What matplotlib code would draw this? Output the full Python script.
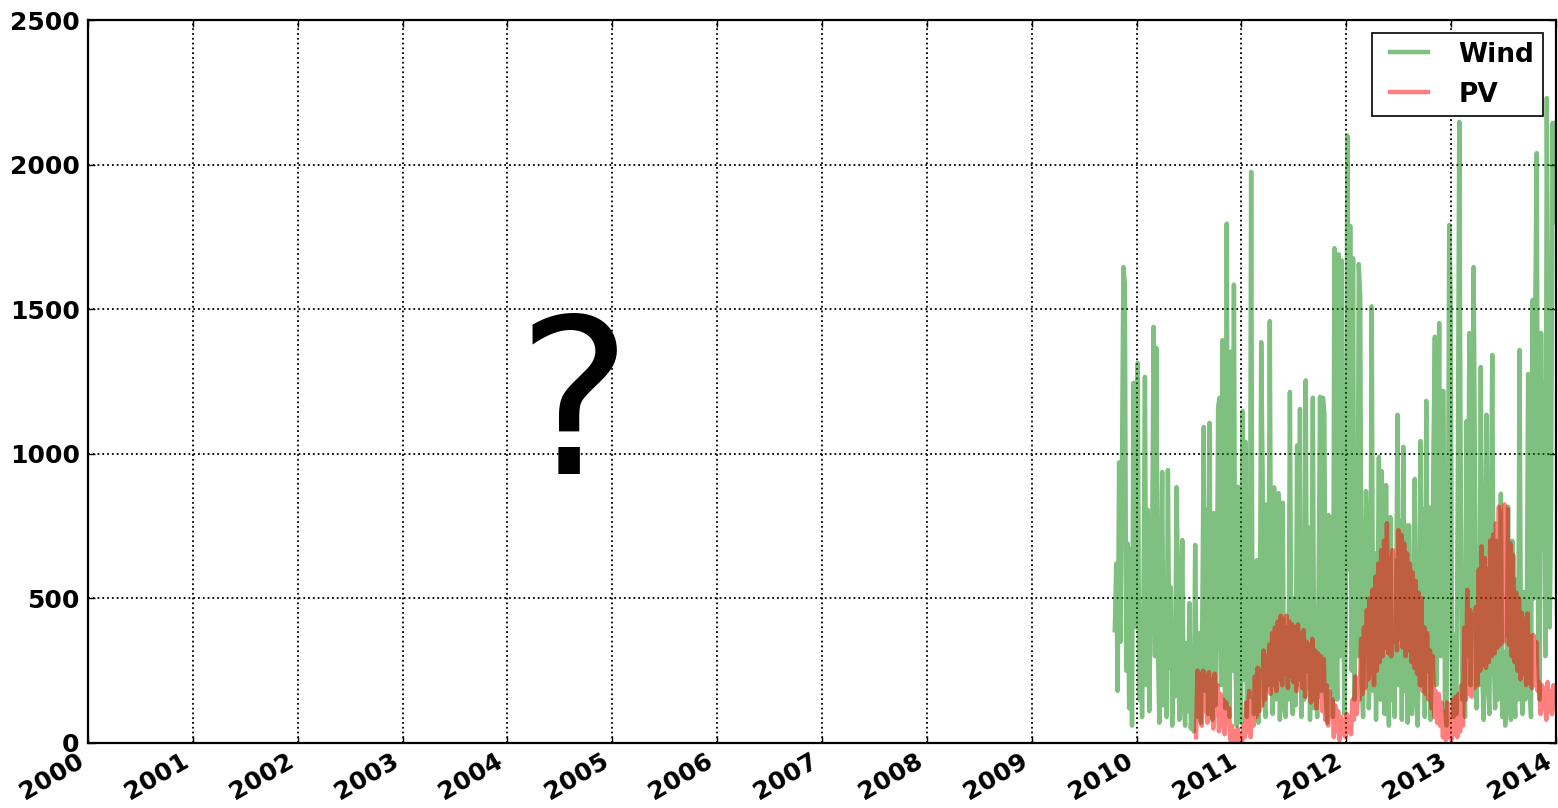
import matplotlib
matplotlib.use("Agg")
import matplotlib.pyplot as plt
import matplotlib.dates as mdates
from matplotlib.lines import Line2D
from matplotlib.legend_handler import HandlerLine2D
import pandas as pd
from datetime import datetime

# ---------------- data (5-day sampling) ----------------
wind_start = "2009-10-17"
wind = [
    390, 620, 180, 970, 350, 960, 1646, 1590, 250, 690,
    120, 670, 60, 1245, 700, 400, 1314, 150, 438, 90,
    520, 1266, 200, 806, 110, 480, 650, 1439, 300, 1366,
    346, 70, 420, 937, 130, 550, 90, 944, 260, 538,
    60, 300, 160, 885, 562, 80, 330, 702, 140, 60,
    346, 110, 484, 50, 138, 40, 685, 200, 90, 380,
    70, 450, 1093, 180, 806, 100, 1107, 250, 80, 795,
    130, 420, 1162, 1194, 200, 1393, 350, 120, 1796, 400,
    90, 1353, 250, 1585, 300, 60, 886, 180, 70, 1148,
    220, 1042, 90, 450, 160, 1975, 250, 100, 400, 632,
    70, 300, 1386, 923, 150, 90, 826, 200, 1459, 260,
    100, 884, 150, 420, 864, 80, 350, 831, 120, 90,
    400, 150, 1214, 300, 100, 500, 130, 1029, 200, 1155,
    90, 380, 150, 1254, 250, 745, 80, 420, 1194, 120,
    300, 90, 553, 1197, 180, 1194, 1141, 160, 70, 788,
    200, 781, 90, 1711, 500, 150, 1690, 300, 1669, 579,
    100, 400, 2100, 600, 1788, 250, 1676, 150, 878, 300,
    1656, 1544, 200, 90, 500, 871, 683, 120, 350, 1510,
    180, 656, 80, 400, 989, 150, 940, 200, 100, 892,
    250, 60, 781, 150, 350, 90, 500, 1135, 200, 767,
    80, 1024, 180, 753, 70, 753, 250, 100, 400, 913,
    150, 60, 350, 1044, 200, 808, 90, 1183, 250, 815,
    80, 300, 1000, 1405, 200, 700, 1452, 300, 1217, 1217,
    150, 60, 500, 1791, 1557, 200, 90, 374, 100, 921,
    2148, 921, 150, 400, 90, 1113, 300, 1418, 200, 600,
    1646, 877, 120, 500, 200, 1300, 250, 80, 640, 1135,
    200, 100, 700, 1342, 300, 120, 699, 150, 400, 862,
    90, 315, 60, 200, 817, 150, 80, 699, 200, 90,
    566, 150, 1359, 300, 100, 522, 150, 400, 1276, 200,
    90, 1532, 500, 1527, 2040, 300, 150, 1418, 670, 1246,
    300, 2230, 1200, 400, 817, 2144, 1800, 2144,
]

pv_start = "2010-07-27"
pv = [
    20, 250, 80, 240, 60, 250, 110, 230, 70, 245,
    90, 220, 50, 240, 100, 200, 40, 170, 60, 150,
    30, 140, 80, 120, 10, 60, 5, 40, 10, 50,
    5, 30, 0, 60, 20, 140, 40, 180, 20, 150,
    60, 230, 90, 260, 110, 250, 130, 320, 150, 300,
    180, 340, 170, 380, 200, 400, 180, 420, 220, 440,
    200, 430, 240, 440, 190, 420, 230, 410, 210, 400,
    180, 410, 220, 380, 190, 390, 160, 350, 190, 340,
    140, 360, 150, 320, 120, 310, 160, 300, 110, 290,
    80, 200, 60, 180, 90, 150, 20, 130, 40, 110,
    10, 90, 30, 80, 20, 100, 40, 90, 30, 150,
    80, 230, 100, 200, 150, 360, 170, 400, 190, 460,
    220, 500, 240, 530, 200, 575, 250, 620, 280, 667,
    300, 700, 330, 760, 310, 640, 300, 667, 350, 630,
    320, 736, 360, 720, 330, 690, 300, 655, 320, 620,
    280, 590, 260, 560, 240, 520, 200, 500, 180, 400,
    170, 380, 150, 320, 120, 300, 90, 180, 70, 170,
    60, 140, 20, 110, 10, 140, 20, 100, 10, 150,
    30, 160, 20, 170, 40, 200, 60, 400, 150, 530,
    170, 460, 160, 440, 190, 470, 200, 600, 250, 680,
    270, 640, 260, 600, 280, 700, 300, 720, 310, 760,
    330, 817, 340, 800, 350, 825, 370, 810, 340, 690,
    300, 650, 280, 520, 250, 500, 220, 450, 240, 430,
    200, 448, 210, 370, 190, 374, 200, 350, 180, 210,
    100, 200, 120, 190, 80, 211, 110, 180, 100, 200,
    120,
]

series_labels = ["Wind", "PV"]
y_ticks = [0, 500, 1000, 1500, 2000, 2500]
x_range = (datetime(2000, 1, 1), datetime(2014, 1, 1))
unknown_mark = "?"
unknown_pos = (datetime(2004, 8, 20), 1140)

# ---------------- plot ----------------
wind_dates = pd.date_range(wind_start, periods=len(wind), freq="5D")
pv_dates = pd.date_range(pv_start, periods=len(pv), freq="5D")

fig = plt.figure(figsize=(15.58, 8.08), dpi=100, facecolor="white")
ax = fig.add_axes([88 / 1558, 1 - 743 / 808, (1556 - 88) / 1558, (743 - 20) / 808])

ax.plot(wind_dates, wind, color="g", alpha=0.5, lw=3.2, label=series_labels[0])
ax.plot(pv_dates, pv, color="r", alpha=0.5, lw=3.2, label=series_labels[1])

ax.text(unknown_pos[0], unknown_pos[1], unknown_mark, fontsize=156,
        ha="center", va="center", color="black")

ax.set_xlim(*x_range)
ax.set_ylim(0, 2500)
ax.set_yticks(y_ticks)
ax.xaxis.set_major_locator(mdates.YearLocator())
ax.xaxis.set_major_formatter(mdates.DateFormatter("%Y"))

ax.grid(True, color="black", linestyle=":", linewidth=1.3)
ax.tick_params(direction="in", top=True, right=True, length=5, width=1,
               labelsize=18)
ax.tick_params(axis="y", pad=6)
ax.tick_params(axis="x", pad=4)
for lab in ax.get_xticklabels():
    lab.set_rotation(30)
    lab.set_ha("right")
    lab.set_fontweight("bold")
for lab in ax.get_yticklabels():
    lab.set_fontweight("bold")
for sp in ax.spines.values():
    sp.set_linewidth(1.6)

leg = ax.legend(loc="upper right", prop={"weight": "bold", "size": 19},
                fancybox=False, edgecolor="black", framealpha=1,
                handlelength=1.8, handletextpad=1.15, borderpad=0.32,
                labelspacing=0.53, borderaxespad=0.5,
                handler_map={Line2D: HandlerLine2D(xpad=0.36)})
leg.get_frame().set_linewidth(1.2)

fig.savefig("out.png", dpi=100, facecolor="white")
